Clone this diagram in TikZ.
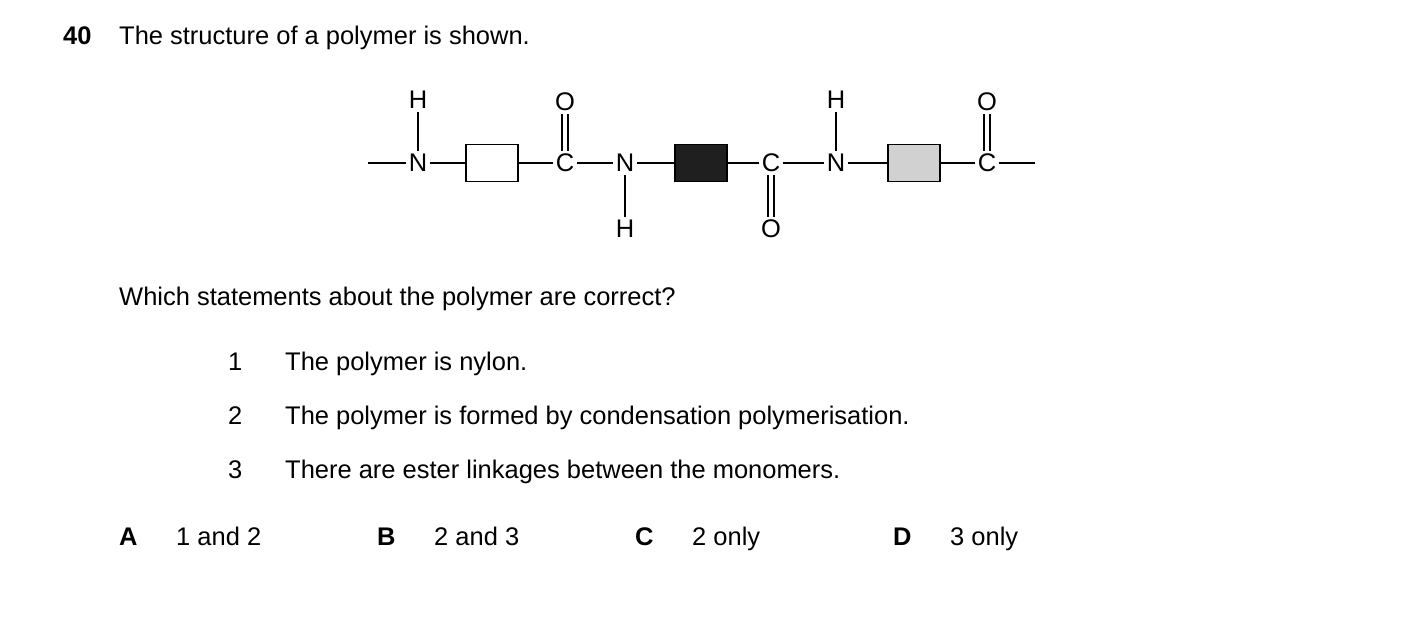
\documentclass[tikz,border=0pt]{standalone}
\usepackage{fontspec}
\setmainfont{Liberation Sans}
\begin{document}
\begin{tikzpicture}[x=0.02cm,y=-0.02cm,
  txt/.style={anchor=base west,font=\fontsize{14.5}{17}\selectfont},
  atom/.style={inner sep=1.5pt,font=\fontsize{14.5}{17}\selectfont},
  unit/.style={draw,line width=1.1pt,minimum width=1.05cm,minimum height=0.74cm,inner sep=0pt},
  bond/.style={line width=0.9pt}]
  \useasboundingbox (0,0) rectangle (1403,642);
  % question
  \node[txt,font=\fontsize{14.5}{17}\selectfont\bfseries] (num) at (57,45) {40};
  \node[txt] (title) at (113,45) {The structure of a polymer is shown.};
  % chain
  \node[atom] (n1) at (418,163) {N};
  \node[atom] (h1) at (418,100) {H};
  \node[unit] (b1) at (492,163) {};
  \node[atom] (c1) at (565,163) {C};
  \node[atom] (o1) at (565,102) {O};
  \node[atom] (n2) at (625,163) {N};
  \node[atom] (h2) at (625,229) {H};
  \node[unit,fill=black!88] (b2) at (701,163) {};
  \node[atom] (c2) at (771,163) {C};
  \node[atom] (o2) at (771,229) {O};
  \node[atom] (n3) at (836,163) {N};
  \node[atom] (h3) at (836,100) {H};
  \node[unit,fill=black!18] (b3) at (914,163) {};
  \node[atom] (c3) at (987,163) {C};
  \node[atom] (o3) at (987,102) {O};
  \coordinate (e1) at (368,163);
  \coordinate (e2) at (1035,163);
  \draw[bond] (e1) -- (n1) -- (b1) -- (c1) -- (n2) -- (b2) -- (c2) -- (n3) -- (b3) -- (c3) -- (e2);
  \draw[bond] (n1) -- (h1) (n2) -- (h2) (n3) -- (h3);
  \draw[bond,double,double distance=2.2pt] (c1) -- (o1);
  \draw[bond,double,double distance=2.2pt] (c2) -- (o2);
  \draw[bond,double,double distance=2.2pt] (c3) -- (o3);
  % statements
  \node[txt] (ask) at (113,305) {Which statements about the polymer are correct?};
  \foreach \n/\y/\s in {1/370/The polymer is nylon.,
      2/424/The polymer is formed by condensation polymerisation.,
      3/478/There are ester linkages between the monomers.}
  {\node[txt] (k\n) at (222,\y) {\n};
   \node[txt] (s\n) at (279,\y) {\s};}
  % options
  \foreach \l/\x/\t in {A/113/1 and 2,B/371/2 and 3,C/629/2 only,D/887/3 only}
  {\node[txt,font=\fontsize{14.5}{17}\selectfont\bfseries] (l\l) at (\x,545) {\l};
   \node[txt] (t\l) at (\x+57,545) {\t};}
\end{tikzpicture}
\end{document}
